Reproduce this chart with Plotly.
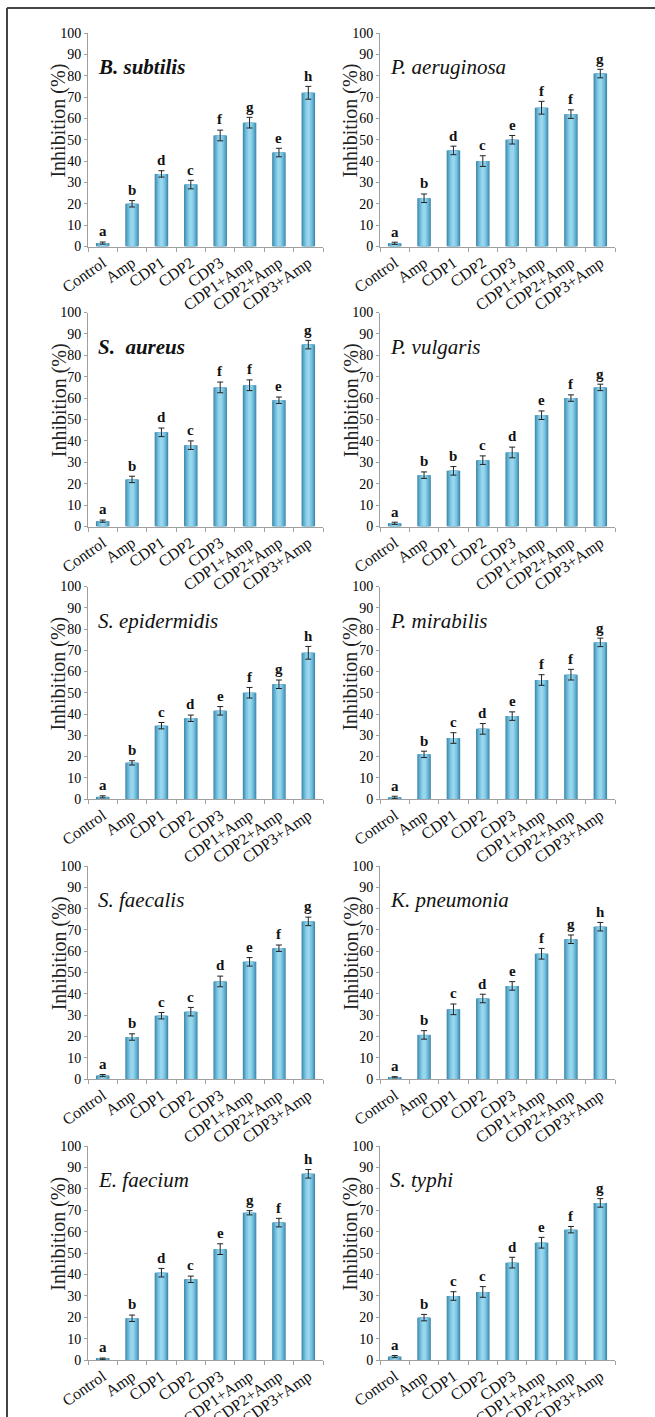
import plotly.graph_objects as go

categories = ["Control", "Amp", "CDP1", "CDP2", "CDP3", "CDP1+Amp", "CDP2+Amp", "CDP3+Amp"]
y_ticks = [0, 10, 20, 30, 40, 50, 60, 70, 80, 90, 100]

species = ["B. subtilis", "P. aeruginosa", "S.\u00a0\u00a0aureus", "P. vulgaris", "S. epidermidis",
           "P. mirabilis", "S. faecalis", "K. pneumonia", "E. faecium", "S. typhi"]
species_bold = [True, False, True, False, False, False, False, False, False, False]

b_subtilis = [1.6, 20, 34, 29, 52, 58, 44, 72]
b_subtilis_err = [0.5, 1.5, 1.5, 2, 2.5, 2.5, 2, 3]
b_subtilis_letters = ["a", "b", "d", "c", "f", "g", "e", "h"]

p_aeruginosa = [1.5, 22.6, 45, 40, 50, 65, 62, 81]
p_aeruginosa_err = [0.5, 2, 2, 2.5, 2, 3, 2, 2]
p_aeruginosa_letters = ["a", "b", "d", "c", "e", "f", "f", "g"]

s_aureus = [2.5, 22, 44, 38, 65, 66, 59, 85]
s_aureus_err = [0.5, 1.5, 2, 2, 2.5, 2.5, 1.5, 2]
s_aureus_letters = ["a", "b", "d", "c", "f", "f", "e", "g"]

p_vulgaris = [1.5, 24, 26, 31, 34.6, 52, 60, 65]
p_vulgaris_err = [0.5, 1.5, 2, 2, 2.5, 2, 1.5, 1.5]
p_vulgaris_letters = ["a", "b", "b", "c", "d", "e", "f", "g"]

s_epidermidis = [1, 17, 34.5, 38, 41.5, 50, 54, 68.8]
s_epidermidis_err = [0.5, 1, 1.5, 1.5, 2, 2.5, 2, 3]
s_epidermidis_letters = ["a", "b", "c", "d", "e", "f", "g", "h"]

p_mirabilis = [0.8, 21, 28.7, 33, 39, 56, 58.5, 73.7]
p_mirabilis_err = [0.5, 1.5, 2.5, 2.5, 2, 2.5, 2.5, 2]
p_mirabilis_letters = ["a", "b", "c", "d", "e", "f", "f", "g"]

s_faecalis = [1.6, 19.7, 29.7, 31.6, 45.8, 55, 61.4, 74]
s_faecalis_err = [0.5, 1.5, 1.5, 2, 2.5, 2, 1.5, 2]
s_faecalis_letters = ["a", "b", "c", "c", "d", "e", "f", "g"]

k_pneumonia = [0.8, 20.7, 32.7, 37.8, 43.7, 58.8, 65.6, 71.5]
k_pneumonia_err = [0.3, 2, 2.5, 2, 2, 2.5, 2, 2]
k_pneumonia_letters = ["a", "b", "c", "d", "e", "f", "g", "h"]

e_faecium = [0.6, 19.5, 40.8, 37.7, 51.8, 68.8, 64.2, 87]
e_faecium_err = [0.3, 1.5, 2, 1.5, 2.5, 1, 2, 2]
e_faecium_letters = ["a", "b", "d", "c", "e", "g", "f", "h"]

s_typhi = [1.6, 19.8, 29.9, 31.8, 45.5, 54.8, 60.9, 73.4]
s_typhi_err = [0.5, 1.5, 2, 2.5, 2.5, 2.5, 1.5, 2]
s_typhi_letters = ["a", "b", "c", "c", "d", "e", "f", "g"]

panels = [
    (b_subtilis, b_subtilis_err, b_subtilis_letters),
    (p_aeruginosa, p_aeruginosa_err, p_aeruginosa_letters),
    (s_aureus, s_aureus_err, s_aureus_letters),
    (p_vulgaris, p_vulgaris_err, p_vulgaris_letters),
    (s_epidermidis, s_epidermidis_err, s_epidermidis_letters),
    (p_mirabilis, p_mirabilis_err, p_mirabilis_letters),
    (s_faecalis, s_faecalis_err, s_faecalis_letters),
    (k_pneumonia, k_pneumonia_err, k_pneumonia_letters),
    (e_faecium, e_faecium_err, e_faecium_letters),
    (s_typhi, s_typhi_err, s_typhi_letters),
]

W, H = 655, 1417
col_px = [(88, 323), (380, 615)]
row_px = [(33, 246.5), (312.5, 526.5), (586.5, 799), (866, 1079), (1146, 1360)]

# gradient layers (width, colour) from outer to inner
layers = [(0.46, "#3f86a9"), (0.40, "#519fc1"), (0.32, "#67b4d5"),
          (0.23, "#80c7e3"), (0.12, "#98d6ee")]

SERIF = "Liberation Serif"

fig = go.Figure()
layout = dict(width=W, height=H, margin=dict(l=0, r=0, t=0, b=0, autoexpand=False),
              paper_bgcolor="white", plot_bgcolor="white", showlegend=False,
              barmode="overlay", annotations=[], shapes=[],
              font=dict(family=SERIF))

for i, (vals, errs, letters) in enumerate(panels):
    n = i + 1
    r, c = divmod(i, 2)
    x0, x1 = col_px[c]
    ytop, ybot = row_px[r]
    xa = "x" if n == 1 else f"x{n}"
    ya = "y" if n == 1 else f"y{n}"
    for k, (w, col) in enumerate(layers):
        last = k == len(layers) - 1
        fig.add_trace(go.Bar(
            x=categories, y=vals, width=w, xaxis=xa, yaxis=ya,
            marker=dict(color=col, line=dict(width=0)),
            error_y=dict(type="data", array=errs, visible=last,
                         color="#222222", thickness=1, width=3),
            hoverinfo="skip"))
    layout[f"xaxis{n}"] = dict(
        domain=[x0 / W, x1 / W], anchor=ya, type="category", automargin=False,
        categoryorder="array", categoryarray=categories,
        range=[-0.5, 7.5], showline=True, linecolor="#a0a0a0", linewidth=1,
        ticks="outside", tickson="boundaries", ticklen=4, tickcolor="#a0a0a0",
        tickangle=-35, tickfont=dict(family=SERIF, size=16, color="#111"),
        showgrid=False, zeroline=False)
    layout[f"yaxis{n}"] = dict(
        domain=[1 - ybot / H, 1 - ytop / H], anchor=xa, range=[0, 100],
        automargin=False,
        tickvals=y_ticks, showline=True, linecolor="#a0a0a0", linewidth=1,
        ticks="outside", ticklen=3, tickcolor="#a0a0a0",
        tickfont=dict(family=SERIF, size=14, color="#000"),
        showgrid=False, zeroline=False)
    name = species[i]
    txt = f"<b><i>{name}</i></b>" if species_bold[i] else f"<i>{name}</i>"
    layout["annotations"].append(dict(
        text=txt, xref=f"{xa} domain", yref=ya, x=0.035, y=84,
        xanchor="left", yanchor="middle", showarrow=False,
        font=dict(family=SERIF, size=21, color="#111")))
    layout["annotations"].append(dict(
        text="Inhibition (%)", xref=f"{xa} domain", yref=ya, x=-29 / 235, y=59,
        xanchor="center", yanchor="middle", textangle=-90, showarrow=False,
        font=dict(family=SERIF, size=20, color="#222")))
    for cat, v, e, lt in zip(categories, vals, errs, letters):
        layout["annotations"].append(dict(
            text=f"<b>{lt}</b>", xref=xa, yref=ya, x=cat, y=v + e + 0.3,
            xanchor="center", yanchor="bottom", showarrow=False,
            font=dict(family=SERIF, size=15, color="#111")))

# frame lines (top and left)
layout["shapes"].append(dict(type="line", xref="paper", yref="paper",
                             x0=7 / W, x1=1, y0=1 - 8 / H, y1=1 - 8 / H,
                             line=dict(color="#444", width=2)))
layout["shapes"].append(dict(type="line", xref="paper", yref="paper",
                             x0=7 / W, x1=7 / W, y0=0, y1=1 - 8 / H,
                             line=dict(color="#444", width=2)))

fig.update_layout(**layout)
fig.write_html("out.html", config={"displayModeBar": False},
               post_script="document.body.style.margin='0';")
